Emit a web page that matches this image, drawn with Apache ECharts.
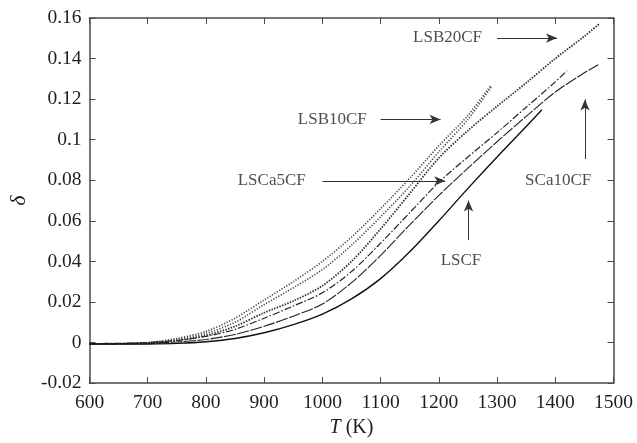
<!DOCTYPE html>
<html>
<head>
<meta charset="utf-8">
<script src="https://cdn.jsdelivr.net/npm/echarts@6/dist/echarts.min.js"></script>
<style>
  html, body { margin: 0; padding: 0; background: #ffffff; }
  #chart { width: 637px; height: 443px; }
</style>
</head>
<body>
<div id="chart"></div>
<script>
// Oxygen non-stoichiometry delta versus temperature T (K)

// axis ticks
const xTicks = [600, 700, 800, 900, 1000, 1100, 1200, 1300, 1400, 1500];
const yTicks = [-0.02, 0, 0.02, 0.04, 0.06, 0.08, 0.1, 0.12, 0.14, 0.16];

// LSB10CF (two runs)
const lsb10T = [600, 650, 700, 750, 800, 850, 900, 950, 1000, 1050, 1100, 1150, 1200, 1250, 1290];
const lsb10aDelta = [-0.0008, -0.0005, 0, 0.002, 0.0055, 0.012, 0.021, 0.030, 0.040, 0.052, 0.066, 0.081, 0.097, 0.112, 0.127];
const lsb10bDelta = [-0.0008, -0.0006, -0.0002, 0.0015, 0.0045, 0.010, 0.0187, 0.027, 0.036, 0.048, 0.062, 0.077, 0.094, 0.110, 0.126];

// LSB20CF
const lsb20T = [600, 650, 700, 750, 800, 850, 900, 950, 1000, 1050, 1100, 1150, 1200, 1250, 1300, 1350, 1400, 1450, 1475];
const lsb20Delta = [-0.0008, -0.0007, -0.0003, 0.001, 0.0035, 0.008, 0.0147, 0.0205, 0.028, 0.040, 0.056, 0.0735, 0.091, 0.1045, 0.1165, 0.128, 0.140, 0.151, 0.157];

// LSCa5CF
const lsca5T = [600, 650, 700, 750, 800, 850, 900, 950, 1000, 1050, 1100, 1150, 1200, 1250, 1300, 1350, 1400, 1420];
const lsca5Delta = [-0.0005, -0.0004, 0, 0.001, 0.003, 0.0065, 0.012, 0.018, 0.0245, 0.035, 0.049, 0.064, 0.079, 0.0915, 0.1035, 0.116, 0.1285, 0.134];

// SCa10CF
const sca10T = [600, 650, 700, 750, 800, 850, 900, 950, 1000, 1050, 1100, 1150, 1200, 1250, 1300, 1350, 1400, 1450, 1474];
const sca10Delta = [-0.0006, -0.0005, -0.0003, 0.0003, 0.0015, 0.004, 0.008, 0.013, 0.019, 0.0295, 0.043, 0.058, 0.0725, 0.086, 0.099, 0.1115, 0.1235, 0.133, 0.137];

// LSCF
const lscfT = [600, 650, 700, 750, 800, 850, 900, 950, 1000, 1050, 1100, 1150, 1200, 1250, 1300, 1350, 1377];
const lscfDelta = [-0.0008, -0.0008, -0.0007, -0.0004, 0.0004, 0.002, 0.0048, 0.0088, 0.014, 0.0215, 0.0315, 0.0447, 0.060, 0.076, 0.0915, 0.1065, 0.1148];

// Annotation labels (text anchored at T, delta)
const labelNames = ['LSB20CF', 'LSB10CF', 'LSCa5CF', 'SCa10CF', 'LSCF'];
const labelT = [1215, 1017, 913, 1405, 1238];
const labelDelta = [0.1504, 0.110, 0.0799, 0.0799, 0.0406];

// Annotation arrows: [T start, delta start] -> [T end, delta end]
const arrowFromT = [1300, 1100, 1000, 1451, 1251];
const arrowFromDelta = [0.1501, 0.110, 0.0797, 0.0905, 0.0505];
const arrowToT = [1403, 1203, 1211, 1451, 1251];
const arrowToDelta = [0.1501, 0.110, 0.0797, 0.1198, 0.070];

const pairs = (xs, ys) => xs.map((x, i) => [x, ys[i]]);

const serif = '"Liberation Serif", "DejaVu Serif", serif';
const axisColor = '#4a4a4a';

function curve(name, xs, ys, style) {
  return {
    name: name,
    type: 'line',
    data: pairs(xs, ys),
    showSymbol: false,
    smooth: 0.3,
    silent: true,
    lineStyle: style,
    z: 3
  };
}

const frameAxis = {
  axisLine: { show: true, onZero: false, lineStyle: { color: axisColor, width: 1.5 } },
  axisTick: { show: true, inside: true, length: 6, lineStyle: { color: axisColor, width: 1 } },
  splitLine: { show: false }
};

const chart = echarts.init(document.getElementById('chart'), null, { renderer: 'canvas' });

chart.setOption({
  backgroundColor: '#ffffff',
  animation: false,
  grid: { left: 88.5, right: 23.5, top: 18, bottom: 57, containLabel: false },
  xAxis: [Object.assign({
    type: 'value',
    min: xTicks[0],
    max: xTicks[xTicks.length - 1],
    interval: xTicks[1] - xTicks[0],
    name: '{i|T} (K)',
    nameLocation: 'middle',
    nameGap: 33,
    nameTextStyle: {
      fontFamily: serif, fontSize: 20, color: '#1e1e1e',
      rich: { i: { fontFamily: serif, fontSize: 20, fontStyle: 'italic', color: '#1e1e1e' } }
    },
    axisLabel: { fontFamily: serif, fontSize: 19.5, color: '#1e1e1e', margin: 10, formatter: v => String(v) }
  }, frameAxis), Object.assign({
    type: 'value',
    position: 'top',
    min: xTicks[0],
    max: xTicks[xTicks.length - 1],
    interval: xTicks[1] - xTicks[0],
    axisLabel: { show: false }
  }, frameAxis)],
  yAxis: [Object.assign({
    type: 'value',
    min: yTicks[0],
    max: yTicks[yTicks.length - 1],
    interval: 0.02,
    name: 'δ',
    nameLocation: 'middle',
    nameRotate: 90,
    nameGap: 58,
    nameTextStyle: { fontFamily: serif, fontSize: 22, fontStyle: 'italic', color: '#1e1e1e' },
    axisLabel: {
      fontFamily: serif, fontSize: 19.5, color: '#1e1e1e', margin: 8,
      formatter: v => String(parseFloat(v.toFixed(2)))
    }
  }, frameAxis), Object.assign({
    type: 'value',
    position: 'right',
    min: yTicks[0],
    max: yTicks[yTicks.length - 1],
    interval: 0.02,
    axisLabel: { show: false }
  }, frameAxis)],
  series: [
    curve('LSB10CF', lsb10T, lsb10aDelta, { color: '#444', width: 1.6, type: [1.2, 1.6] }),
    curve('LSB10CF', lsb10T, lsb10bDelta, { color: '#444', width: 1.6, type: [1.2, 1.6] }),
    curve('LSB20CF', lsb20T, lsb20Delta, { color: '#333', width: 1.8, type: [1.5, 1.3] }),
    curve('LSCa5CF', lsca5T, lsca5Delta, { color: '#222', width: 1.2, type: [7, 2, 1.5, 2] }),
    curve('SCa10CF', sca10T, sca10Delta, { color: '#222', width: 1.1, type: [12, 1.5] }),
    curve('LSCF', lscfT, lscfDelta, { color: '#111', width: 1.4, type: 'solid' }),
    {
      name: 'labels',
      type: 'scatter',
      symbolSize: 0,
      silent: true,
      data: labelNames.map((n, i) => ({ value: [labelT[i], labelDelta[i]], name: n })),
      label: {
        show: true,
        position: 'inside',
        formatter: p => p.name,
        fontFamily: serif,
        fontSize: 17,
        color: '#1e1e1e'
      },
      markLine: {
        silent: true,
        symbol: ['none', 'arrow'],
        symbolSize: [7, 11],
        label: { show: false },
        lineStyle: { color: '#333', width: 1, type: 'solid' },
        data: arrowFromT.map((t, i) => [
          { coord: [t, arrowFromDelta[i]] },
          { coord: [arrowToT[i], arrowToDelta[i]] }
        ])
      },
      z: 5
    }
  ]
});
</script>
</body>
</html>
